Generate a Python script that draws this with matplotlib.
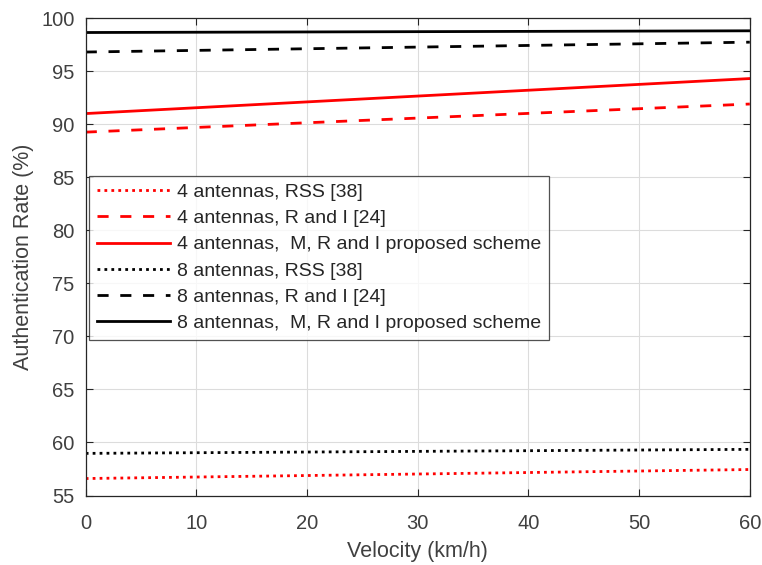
import matplotlib
matplotlib.use("Agg")
import matplotlib.pyplot as plt

plt.rcParams['font.family'] = ['Liberation Sans', 'DejaVu Sans']

# velocity (km/h)
velocity = [0, 60]

# authentication rate (%)
rss_4 = [56.6, 57.45]
ri_4 = [89.25, 91.9]
mri_4 = [91.0, 94.3]
rss_8 = [58.97, 59.35]
ri_8 = [96.8, 97.73]
mri_8 = [98.64, 98.8]

labels = [
    '4 antennas, RSS [38]',
    '4 antennas, R and I [24]',
    '4 antennas,  M, R and I proposed scheme',
    '8 antennas, RSS [38]',
    '8 antennas, R and I [24]',
    '8 antennas,  M, R and I proposed scheme',
]

txt = '#404040'
dotted = (0, (1, 1.5))
dashed = (0, (4, 4.2))

fig, ax = plt.subplots(figsize=(7.62, 5.65), dpi=100)
fig.subplots_adjust(left=0.1125, right=0.984, top=0.968, bottom=0.123)

ax.plot(velocity, rss_4, color='red', linestyle=dotted, linewidth=2, label=labels[0])
ax.plot(velocity, ri_4, color='red', linestyle=dashed, linewidth=2, label=labels[1])
ax.plot(velocity, mri_4, color='red', linestyle='-', linewidth=2, label=labels[2])
ax.plot(velocity, rss_8, color='black', linestyle=dotted, linewidth=2, label=labels[3])
ax.plot(velocity, ri_8, color='black', linestyle=dashed, linewidth=2, label=labels[4])
ax.plot(velocity, mri_8, color='black', linestyle='-', linewidth=2, label=labels[5])

ax.set_xlim(0, 60)
ax.set_ylim(55, 100)
ax.set_xticks(range(0, 61, 10))
ax.set_yticks(range(55, 101, 5))
ax.grid(True, color='#dcdcdc', linewidth=0.8)
ax.set_axisbelow(True)
ax.tick_params(direction='in', top=True, right=True, labelsize=14.5,
               colors='#262626', labelcolor=txt, length=5)
ax.tick_params(axis='x', pad=13)
ax.tick_params(axis='y', pad=8)
for s in ax.spines.values():
    s.set_color('#262626')
    s.set_linewidth(0.9)

ax.set_xlabel('Velocity (km/h)', fontsize=15.5, color=txt, labelpad=6)
ax.set_ylabel('Authentication Rate (%)', fontsize=15.5, color=txt, labelpad=5)

leg = ax.legend(loc='upper left', bbox_to_anchor=(0.005, 0.670), fontsize=14,
                frameon=True, fancybox=False, edgecolor='#262626',
                handlelength=3.75, handletextpad=0.36, borderpad=0.4,
                labelspacing=0.44, borderaxespad=0)
leg.get_frame().set_linewidth(0.9)
for t in leg.get_texts():
    t.set_color('#262626')

fig.savefig('out.png', dpi=100)
